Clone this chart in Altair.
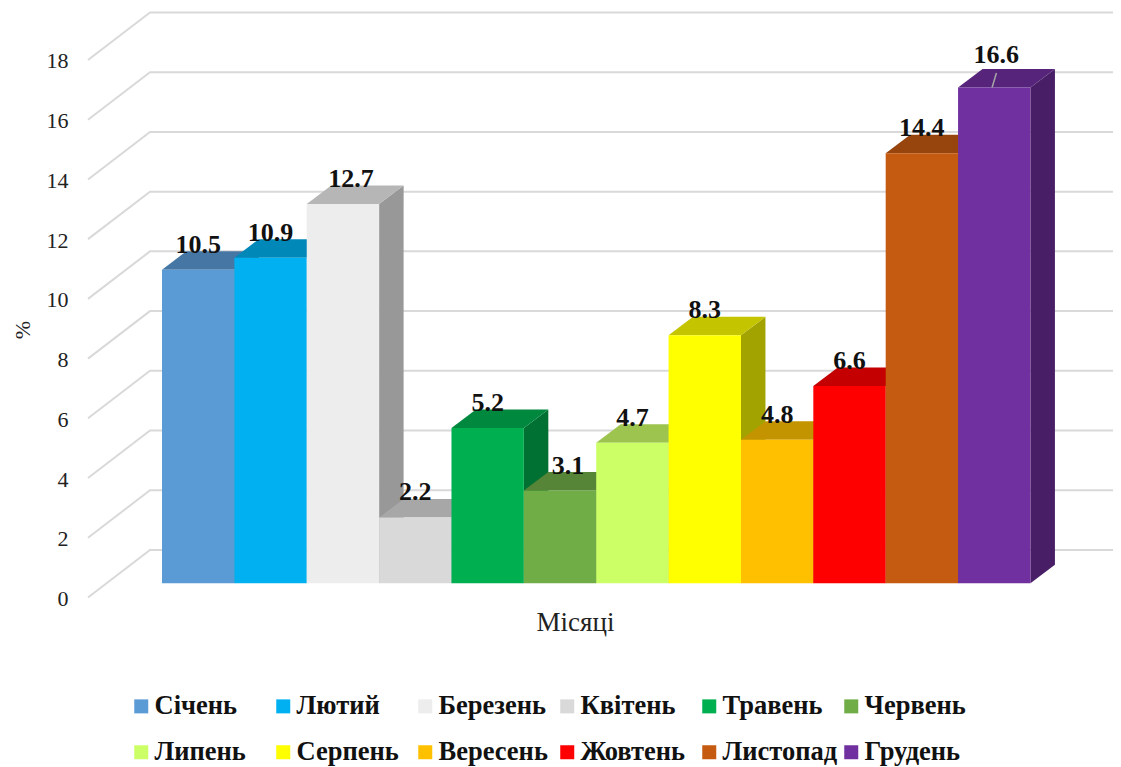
import altair as alt
import pandas as pd

months = ["Січень", "Лютий", "Березень", "Квітень", "Травень", "Червень",
          "Липень", "Серпень", "Вересень", "Жовтень", "Листопад", "Грудень"]
values = [10.5, 10.9, 12.7, 2.2, 5.2, 3.1, 4.7, 8.3, 4.8, 6.6, 14.4, 16.6]
colors = ["#5B9BD5", "#00B0F0", "#EDEDED", "#D9D9D9", "#00B050", "#70AD47",
          "#CCFF66", "#FFFF00", "#FFC000", "#FF0000", "#C55A11", "#7030A0"]
ticks = [0, 2, 4, 6, 8, 10, 12, 14, 16, 18]

# Pseudo-3D geometry, in axis units
PX_Y = 29.85               # pixels per percent
PX_X = 72.37               # pixels per bar
X_MIN, X_MAX = -1.0225, 13.1410
Y_MAX = 19.59
WALL_X = -0.166            # left end of the back wall
WALL_Y = 47.5 / PX_Y       # rise of the back wall
FLOOR = 14.3 / PX_Y        # rise of the bars' base above the axis zero
DEPTH_X = 24.5 / PX_X
DEPTH_Y = 18.5 / PX_Y
LABEL_GAP = 17 / PX_Y
LABEL_SHIFT = {"Березень": (8, 0), "Червень": (8, 0), "Грудень": (2, 7)}
FONT = "Liberation Serif"


def shade(hex_color, k):
    r, g, b = (int(hex_color[j:j + 2], 16) for j in (1, 3, 5))
    return "#%02X%02X%02X" % (round(r * k), round(g * k), round(b * k))


fronts, sides, tops, labels = [], [], [], []
for i, (m, v, c) in enumerate(zip(months, values, colors)):
    top = v + FLOOR
    fronts.append(dict(month=m, x=i, x2=i + 1, y=top, y2=FLOOR))
    sides.append(dict(month=m, c=shade(c, 0.64), x=i + 1, y=top, y2=FLOOR))
    sides.append(dict(month=m, c=shade(c, 0.64), x=i + 1 + DEPTH_X, y=top + DEPTH_Y, y2=FLOOR + DEPTH_Y))
    tops.append(dict(month=m, c=shade(c, 0.77), x=i, x2=i + 1, y=top))
    tops.append(dict(month=m, c=shade(c, 0.77), x=i + DEPTH_X, x2=i + 1 + DEPTH_X, y=top + DEPTH_Y))
    sx, sy = LABEL_SHIFT.get(m, (0, 0))
    labels.append(dict(text=f"{v:.1f}", x=i + 0.5 + sx / PX_X, y=top + LABEL_GAP + sy / PX_Y))

grid = []
for t in ticks:
    grid.append(dict(t=t, x=X_MIN, y=t))
    grid.append(dict(t=t, x=WALL_X, y=t + WALL_Y))
    grid.append(dict(t=t, x=X_MAX, y=t + WALL_Y))

last = len(values) - 1
leader = pd.DataFrame([dict(x=last + 0.47, y=values[last] + FLOOR,
                            x2=last + 0.53, y2=values[last] + FLOOR + 14.5 / PX_Y)])

xs = alt.Scale(domain=[X_MIN, X_MAX], nice=False, zero=False)
ys = alt.Scale(domain=[0, Y_MAX], nice=False, zero=False)
xa = alt.Axis(
    title="Місяці", labels=False, ticks=False, domain=False, grid=False,
    titleFont=FONT, titleFontSize=27, titleFontWeight="normal", titleColor="#222222",
    titleX=487, titleY=12, titleAnchor="middle", titleAlign="center")
ya = alt.Axis(
    title="%", values=ticks, ticks=False, domain=False, grid=False, labelPadding=20,
    labelFont=FONT, labelFontSize=22, labelColor="#222222", labelOffset=1,
    titleFont=FONT, titleFontSize=22, titleFontWeight="normal", titleColor="#222222",
    titleX=-66, titleY=317, titleAlign="center", titleBaseline="middle")

grid_layer = alt.Chart(pd.DataFrame(grid)).mark_line(color="#D9D9D9", strokeWidth=2).encode(
    x=alt.X("x:Q", scale=xs, axis=xa),
    y=alt.Y("y:Q", scale=ys, axis=ya),
    detail="t:N", order=alt.Order("x:Q"),
)

side_layer = alt.Chart(pd.DataFrame(sides)).mark_area(line=False, opacity=1).encode(
    x=alt.X("x:Q", scale=xs, axis=xa),
    y=alt.Y("y:Q", scale=ys, axis=ya),
    y2="y2:Q",
    color=alt.Color("c:N", scale=None),
    detail="month:N",
)

top_layer = alt.Chart(pd.DataFrame(tops)).mark_area(orient="horizontal", opacity=1).encode(
    y=alt.Y("y:Q", scale=ys, axis=ya),
    x=alt.X("x:Q", scale=xs, axis=xa),
    x2="x2:Q",
    color=alt.Color("c:N", scale=None),
    detail="month:N",
)

front_layer = alt.Chart(pd.DataFrame(fronts)).mark_bar(opacity=1).encode(
    x=alt.X("x:Q", scale=xs, axis=xa),
    x2="x2:Q",
    y=alt.Y("y:Q", scale=ys, axis=ya),
    y2="y2:Q",
    color=alt.Color("month:N", sort=months,
                    scale=alt.Scale(domain=months, range=colors),
                    legend=alt.Legend(
                        title=None, orient="none", direction="horizontal", legendX=40, legendY=680.5, columns=6,
                        gridAlign="all", symbolType="square", symbolSize=196,
                        symbolStrokeWidth=0, symbolOpacity=1, labelFont=FONT,
                        labelFontSize=26.5, labelFontWeight="bold", labelColor="#111111",
                        labelOffset=0, labelLimit=200, columnPadding=0, rowPadding=19,
                        padding=0)),
)

leader_layer = alt.Chart(leader).mark_rule(color="#A6A6A6", strokeWidth=1.5).encode(
    x=alt.X("x:Q", scale=xs, axis=xa),
    x2="x2:Q",
    y=alt.Y("y:Q", scale=ys, axis=ya),
    y2="y2:Q",
)

text_layer = alt.Chart(pd.DataFrame(labels)).mark_text(
    font=FONT, fontSize=26, fontWeight="bold", color="#111111",
    align="center", baseline="alphabetic").encode(
    x=alt.X("x:Q", scale=xs, axis=xa),
    y=alt.Y("y:Q", scale=ys, axis=ya),
    text="text:N",
)

chart = alt.layer(grid_layer, side_layer, top_layer, front_layer, leader_layer, text_layer).properties(
    width=1025, height=585,
    padding={"left": 80, "top": 4.5, "right": 0, "bottom": 169.5},
    autosize=alt.AutoSizeParams(type="none"),
    background="white",
).configure_view(stroke=None)

chart.save("out.html", embed_options={"renderer": "svg", "actions": False})
